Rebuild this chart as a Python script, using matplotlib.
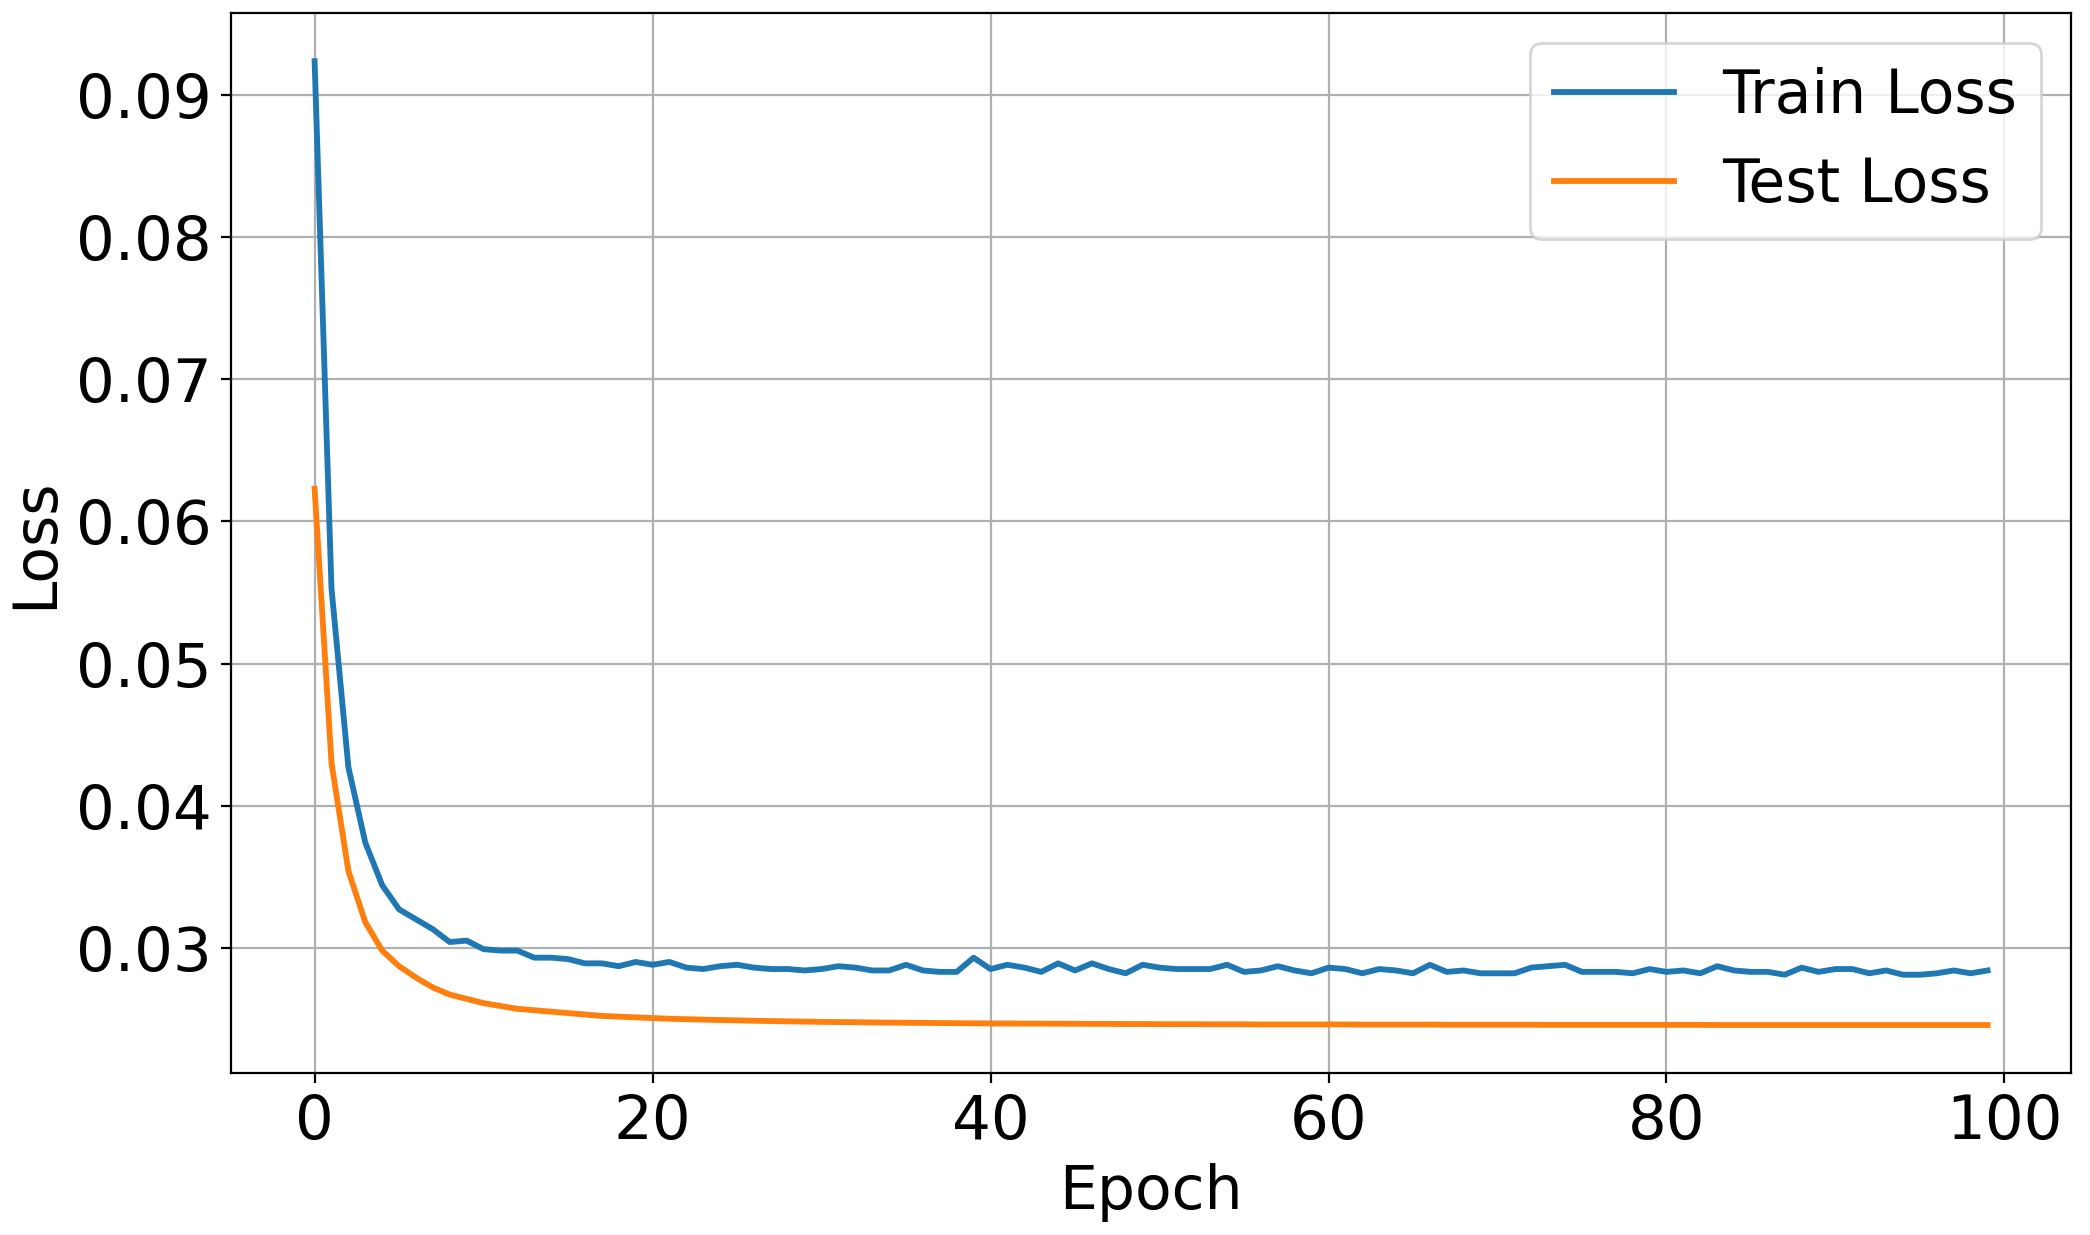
import numpy as np
import matplotlib
matplotlib.use("Agg")
import matplotlib.pyplot as plt

# per-epoch losses
train_loss = [
    0.0924, 0.0553, 0.0427, 0.0374, 0.0344, 0.0327, 0.0320, 0.0313, 0.0304, 0.0305,
    0.0299, 0.0298, 0.0298, 0.0293, 0.0293, 0.0292, 0.0289, 0.0289, 0.0287, 0.0290,
    0.0288, 0.0290, 0.0286, 0.0285, 0.0287, 0.0288, 0.0286, 0.0285, 0.0285, 0.0284,
    0.0285, 0.0287, 0.0286, 0.0284, 0.0284, 0.0288, 0.0284, 0.0283, 0.0283, 0.0293,
    0.0285, 0.0288, 0.0286, 0.0283, 0.0289, 0.0284, 0.0289, 0.0285, 0.0282, 0.0288,
    0.0286, 0.0285, 0.0285, 0.0285, 0.0288, 0.0283, 0.0284, 0.0287, 0.0284, 0.0282,
    0.0286, 0.0285, 0.0282, 0.0285, 0.0284, 0.0282, 0.0288, 0.0283, 0.0284, 0.0282,
    0.0282, 0.0282, 0.0286, 0.0287, 0.0288, 0.0283, 0.0283, 0.0283, 0.0282, 0.0285,
    0.0283, 0.0284, 0.0282, 0.0287, 0.0284, 0.0283, 0.0283, 0.0281, 0.0286, 0.0283,
    0.0285, 0.0285, 0.0282, 0.0284, 0.0281, 0.0281, 0.0282, 0.0284, 0.0282, 0.0284,
]
test_loss = [
    0.0623, 0.0430, 0.0354, 0.0318, 0.0298, 0.0287, 0.0279, 0.0272, 0.0267, 0.0264,
    0.0261, 0.0259, 0.0257, 0.0256, 0.0255, 0.0254, 0.0253, 0.0252, 0.02515, 0.0251,
    0.02505, 0.0250, 0.02497, 0.02494, 0.02491, 0.02489, 0.02486, 0.02484, 0.02482, 0.0248,
    0.02478, 0.02477, 0.02476, 0.02474, 0.02473, 0.02472, 0.02471, 0.0247, 0.02469, 0.02468,
    0.02467, 0.02467, 0.02466, 0.02466, 0.02465, 0.02465, 0.02464, 0.02464, 0.02463, 0.02463,
    0.02462, 0.02462, 0.02462, 0.02461, 0.02461, 0.02461, 0.0246, 0.0246, 0.0246, 0.0246,
    0.0246, 0.0246, 0.02459, 0.02459, 0.02459, 0.02459, 0.02459, 0.02458, 0.02458, 0.02458,
    0.02458, 0.02458, 0.02458, 0.02457, 0.02457, 0.02457, 0.02457, 0.02457, 0.02457, 0.02457,
    0.02457, 0.02457, 0.02457, 0.02456, 0.02456, 0.02456, 0.02456, 0.02456, 0.02456, 0.02456,
    0.02456, 0.02456, 0.02456, 0.02456, 0.02456, 0.02456, 0.02456, 0.02456, 0.02456, 0.02456,
]
epochs = np.arange(len(train_loss))

fs = 21.6
fig, ax = plt.subplots(figsize=(10.45, 6.175))
fig.subplots_adjust(left=0.1105, right=0.991, top=0.9895, bottom=0.131)

ax.plot(epochs, train_loss, color="#1f77b4", lw=2.1, label="Train Loss")
ax.plot(epochs, test_loss, color="#ff7f0e", lw=2.1, label="Test Loss")

ax.set_xlabel("Epoch", fontsize=fs)
ax.set_ylabel("Loss", fontsize=fs)
ax.tick_params(labelsize=22)
ax.grid(True)
ax.legend(fontsize=fs, loc="upper right")

fig.savefig("out.png", dpi=200)
